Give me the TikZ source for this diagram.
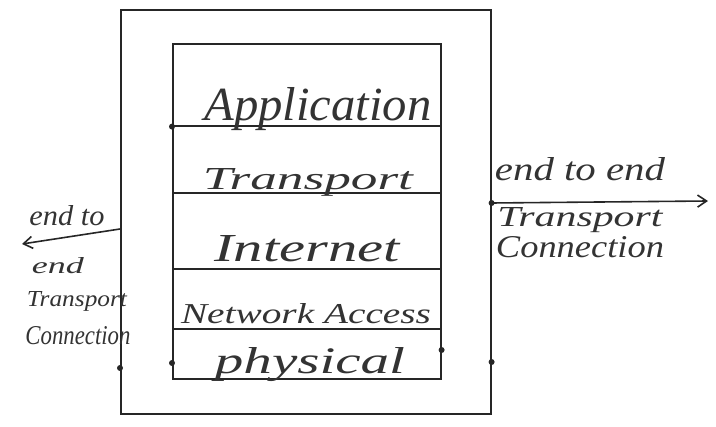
\documentclass[tikz,border=0pt]{standalone}
\usepackage{fontspec}
\setmainfont{Liberation Serif}
\usetikzlibrary{arrows.meta,calc}
\newcommand\handtxt[3]{\resizebox{#1pt}{#2pt}{\itshape #3}}
\begin{document}
\begin{tikzpicture}[x=1pt,y=-1pt,
  line/.style={draw=black!85,line width=1.6pt},
  layer/.style={line,minimum width=268pt,inner sep=0pt,anchor=north west},
  txt/.style={inner sep=0pt,anchor=base,text=black!80},
  pdot/.style={circle,fill=black!85,inner sep=0pt,minimum size=6pt},
  arr/.style={line,-{Straight Barb[length=9pt,width=12pt]}}]
\useasboundingbox (0,0) rectangle (716,427);
% outer box
\node[line,minimum width=370pt,minimum height=404pt,anchor=north west,inner sep=0pt] (outer) at (120,9) {};
% layers
\node[layer,minimum height=82pt] (app) at (172,43) {};
\node[layer,minimum height=67pt] (tra) at (172,125) {};
\node[layer,minimum height=76pt] (int) at (172,192) {};
\node[layer,minimum height=60pt] (net) at (172,268) {};
\node[layer,minimum height=50pt] (phy) at (172,328) {};
\node[txt] (tapp) at (318,121) {\handtxt{227}{33}{Application}};
\node[txt] (ttra) at (308,190) {\handtxt{210}{21}{Transport}};
\node[txt] (tint) at (307,262) {\handtxt{185}{26}{Internet}};
\node[txt] (tnet) at (306,324) {\handtxt{250}{20}{Network Access}};
\node[txt] (tphy) at (310,374) {\handtxt{190}{26}{physical}};
% left arrow
\coordinate (L) at (22,244);
\draw[arr] (outer.west |- 0,229) -- (L);
\node[txt] (l1) at (67,226) {\handtxt{75}{20}{end to}};
\node[txt] (l2) at (58,274) {\handtxt{52}{16}{end}};
\node[txt] (l3) at (77,307) {\handtxt{100}{15}{Transport}};
\node[txt] (l4) at (78,345) {\handtxt{105}{18}{Connection}};
% right arrow
\coordinate (R) at (708,201);
\draw[arr] (outer.east |- 0,203) -- (R);
\node[txt] (r1) at (580,181) {\handtxt{170}{23}{end to end}};
\node[txt] (r2) at (580,227) {\handtxt{165}{19}{Transport}};
\node[txt] (r3) at (580,258) {\handtxt{168}{21}{Connection}};
% pen dots
\node[pdot] (d1) at (app.south west) {};
\node[pdot] (d2) at (outer.west |- 0,368) {};
\node[pdot] (d3) at (phy.west |- 0,363) {};
\node[pdot] (d4) at (phy.east |- 0,350) {};
\node[pdot] (d5) at (outer.east |- 0,362) {};
\node[pdot] (d6) at (outer.east |- 0,203) {};
\end{tikzpicture}
\end{document}
